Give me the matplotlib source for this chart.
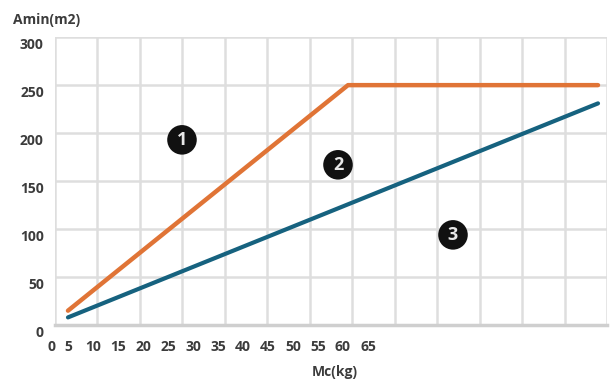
import numpy as np
import matplotlib.pyplot as plt
from matplotlib import transforms

plt.rcParams['font.family'] = ['Open Sans', 'DejaVu Sans']

# data
mc_upper = [5, 61, 111]
amin_upper = [15, 250, 250]
mc_lower = [5, 111]
amin_lower = [8, 231]

x_labels = [0, 5, 10, 15, 20, 25, 30, 35, 40, 45, 50, 55, 60, 65]
y_ticks = [0, 50, 100, 150, 200, 250, 300]

zones = ['1', '2', '3']
zone_x = [27.8, 59, 82]
zone_y = [193, 167, 94]

orange = '#e07436'
blue = '#16627f'
text_col = '#3c3c3c'

fig = plt.figure(figsize=(6.15, 3.87), dpi=100)
ax = fig.add_axes([0.0894, 0.160, 0.8976, 0.744])

xmin, xmax = 2.4, 112.8
ax.set_xlim(xmin, xmax)
ax.set_ylim(0, 300)

# grid: 13 equal columns, rows every 50
for gx in np.linspace(xmin, xmax, 14):
    ax.axvline(gx, color='#dedede', lw=1.8, zorder=0)
for gy in y_ticks[1:]:
    ax.axhline(gy, color='#dedede', lw=1.8, zorder=0)

for s in ['left', 'right', 'top']:
    ax.spines[s].set_visible(False)
ax.spines['bottom'].set_color('#cfcfcf')
ax.spines['bottom'].set_linewidth(2.5)

ax.plot(mc_upper, amin_upper, color=orange, lw=3.2, solid_capstyle='round', zorder=3)
ax.plot(mc_lower, amin_lower, color=blue, lw=3.0, solid_capstyle='round', zorder=3)

for t, zx, zy in zip(zones, zone_x, zone_y):
    ax.text(zx, zy, t, ha='center', va='center', color='#e8e8e8', fontsize=13,
            fontweight='bold', zorder=4,
            bbox=dict(boxstyle='circle,pad=0.32', fc='#111111', ec='none'))

# y tick labels, sitting a little below their grid lines
ax.set_yticks(y_ticks)
ax.tick_params(axis='y', length=0, pad=8, labelsize=10, labelcolor=text_col)
off = transforms.ScaledTranslation(0, -6 / 100, fig.dpi_scale_trans)
for lab in ax.get_yticklabels():
    lab.set_fontweight('bold')
    lab.set_transform(lab.get_transform() + off)

# x labels are crammed to the left, not on the grid
ax.set_xticks([])
tr = transforms.blended_transform_factory(ax.transData, ax.transAxes)
for v in x_labels:
    xv = v if v > 0 else 1.8
    ax.text(xv, -0.075, str(v), transform=tr, ha='center', va='center',
            fontsize=10, color=text_col, fontweight='bold')

fig.text(0.075, 0.948, 'Amin(m2)', ha='center', va='center', fontsize=10,
         color=text_col, fontweight='bold')
fig.text(0.545, 0.040, 'Mc(kg)', ha='center', va='center', fontsize=10,
         color=text_col, fontweight='bold')

fig.savefig('out.png', dpi=100)
